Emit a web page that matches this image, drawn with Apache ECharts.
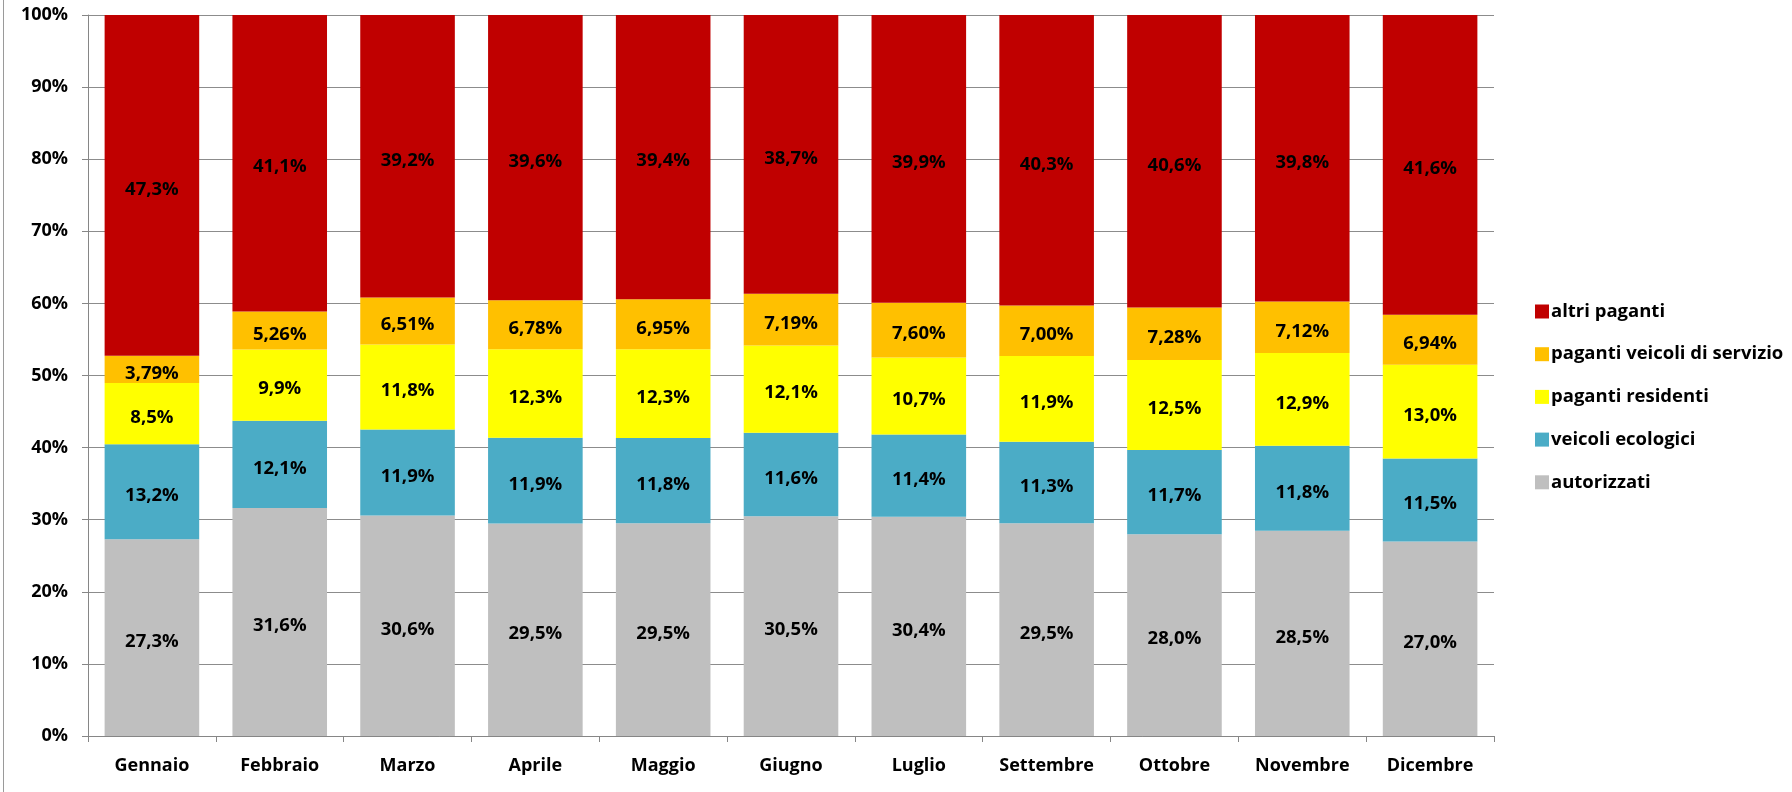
<!DOCTYPE html>
<html>
<head>
<meta charset="utf-8">
<script src="https://cdn.jsdelivr.net/npm/echarts@6/dist/echarts.min.js"></script>
<style>html,body{margin:0;padding:0;background:#fff}#c{width:1792px;height:792px}</style>
</head>
<body>
<div id="c"></div>
<script>
const categories = ['Gennaio','Febbraio','Marzo','Aprile','Maggio','Giugno','Luglio','Settembre','Ottobre','Novembre','Dicembre'];
const autorizzati = [27.3,31.6,30.6,29.5,29.5,30.5,30.4,29.5,28.0,28.5,27.0];
const veicoliEcologici = [13.2,12.1,11.9,11.9,11.8,11.6,11.4,11.3,11.7,11.8,11.5];
const pagantiResidenti = [8.5,9.9,11.8,12.3,12.3,12.1,10.7,11.9,12.5,12.9,13.0];
const pagantiServizio = [3.79,5.26,6.51,6.78,6.95,7.19,7.60,7.00,7.28,7.12,6.94];
const altriPaganti = [47.3,41.1,39.2,39.6,39.4,38.7,39.9,40.3,40.6,39.8,41.6];
const yTicks = ['0%','10%','20%','30%','40%','50%','60%','70%','80%','90%','100%'];

const FONT = 'Open Sans';
const seriesDefs = [
  {name:'autorizzati', data:autorizzati, color:'#BFBFBF', dec:1},
  {name:'veicoli ecologici', data:veicoliEcologici, color:'#4BACC6', dec:1},
  {name:'paganti residenti', data:pagantiResidenti, color:'#FFFF00', dec:1},
  {name:'paganti veicoli di servizio', data:pagantiServizio, color:'#FFC000', dec:2},
  {name:'altri paganti', data:altriPaganti, color:'#C00000', dec:1}
];
const totals = categories.map((_, i) => seriesDefs.reduce((s, d) => s + d.data[i], 0));

const chart = echarts.init(document.getElementById('c'), null, {renderer:'canvas'});
chart.setOption({
  animation:false,
  textStyle:{fontFamily:FONT},
  grid:{left:88, right:298, top:15, bottom:56, containLabel:false},
  legend:{
    orient:'vertical', left:1530, top:297,
    itemWidth:14, itemHeight:14, itemGap:23.7,
    icon:'rect',
    data:['altri paganti','paganti veicoli di servizio','paganti residenti','veicoli ecologici','autorizzati'],
    textStyle:{fontFamily:FONT, fontWeight:'bold', fontSize:18.5, color:'#000', lineHeight:18, padding:[0,0,0,-3]}
  },
  xAxis:{
    type:'category', data:categories,
    axisLine:{lineStyle:{color:'#868686', width:1}},
    axisTick:{show:true, length:6, lineStyle:{color:'#868686'}},
    axisLabel:{color:'#000', fontWeight:'bold', fontSize:18, fontFamily:FONT, margin:21}
  },
  yAxis:{
    type:'value', min:0, max:100, interval:10,
    axisLine:{show:true, lineStyle:{color:'#868686', width:1}},
    axisTick:{show:true, length:6, lineStyle:{color:'#868686'}},
    splitLine:{lineStyle:{color:'#8c8c8c', width:1}},
    axisLabel:{color:'#000', fontWeight:'bold', fontSize:18, fontFamily:FONT, margin:20,
      formatter:(v) => yTicks[Math.round(v/10)]}
  },
  series: seriesDefs.map(d => ({
    name:d.name, type:'bar', stack:'total', barWidth:'74%',
    itemStyle:{color:d.color},
    data:d.data.map((v, i) => v / totals[i] * 100),
    label:{show:true, position:'inside', offset:[0,4], color:'#000', fontWeight:'bold', fontSize:18.5, fontFamily:FONT,
      formatter:(p) => d.data[p.dataIndex].toFixed(d.dec).replace('.', ',') + '%'}
  })),
  graphic:[{type:'line', shape:{x1:3.5, y1:0, x2:3.5, y2:792}, style:{stroke:'#9a9a9a', lineWidth:1}}]
});
</script>
</body>
</html>
